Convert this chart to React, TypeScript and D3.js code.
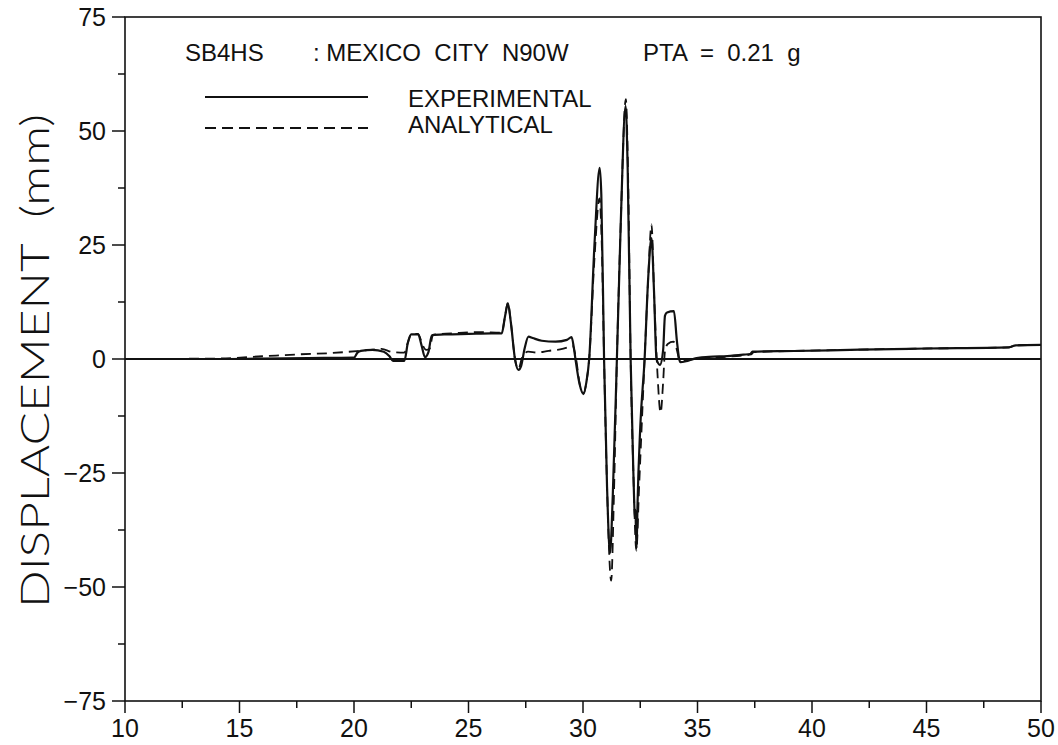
import React from "react";
import * as d3 from "d3";

const xTickValues = [10, 15, 20, 25, 30, 35, 40, 45, 50];
const xMinorTicks = [12.5, 17.5, 22.5, 27.5, 32.5, 37.5, 42.5, 47.5];
const yTickValues = [-75, -50, -25, 0, 25, 50, 75];
const yTickLabels = ["\u221275", "\u221250", "\u221225", "0", "25", "50", "75"];
const yMinorTicks = [-62.5, -37.5, -12.5, 12.5, 37.5, 62.5];

const titleLeft = "SB4HS";
const titleMid = ": MEXICO  CITY  N90W";
const titleRight = "PTA  =  0.21  g";
const seriesNames = ["EXPERIMENTAL", "ANALYTICAL"];
const yAxisTitle = "DISPLACEMENT  (mm)";

// Experimental (solid)
const expTime = [
  10.0, 14.0, 16.0, 18.0, 20.0, 20.15, 20.3, 20.8, 21.3, 21.55, 21.7, 22.2, 22.35, 22.5, 22.8, 22.95,
  23.1, 23.25, 23.4, 24.0, 25.0, 26.0, 26.45, 26.6, 26.72, 26.85, 27.03, 27.18, 27.3, 27.45,
  27.62, 27.8, 28.2, 28.8, 29.3, 29.5, 29.6, 29.67, 29.85, 30.02, 30.15, 30.27, 30.5, 30.73,
  30.8, 30.92, 31.05, 31.18, 31.3, 31.48, 31.65, 31.86, 31.95, 32.08, 32.2, 32.24, 32.27, 32.29,
  32.31, 32.34, 32.38, 32.5, 32.69, 32.85, 32.99, 33.1, 33.21, 33.36, 33.5, 33.58, 33.67, 33.97,
  34.1, 34.2, 34.25, 34.5, 34.8, 35.5, 36.3, 37.0, 37.3, 37.4, 39.2, 42.1, 45.0, 48.6, 48.9, 50.0,
];
const expDisp = [
  0, 0, 0.1, 0.2, 0.3, 1.4, 1.8, 2.0, 1.6, 0.6, -0.4, -0.4, 3.5, 5.4, 5.4, 3.0,
  0.4, 1.5, 5.2, 5.4, 5.5, 5.6, 5.6, 9.5, 12.2, 8.0, 0, -2.4, -1.5, 2.3,
  4.9, 4.6, 4.0, 3.8, 4.2, 4.8, 2.5, 0, -5.5, -7.7, -5.0, 0, 25, 41.9,
  36, 0, -28, -42.6, -30, 0, 30, 55.5, 42, 0, -25, -32, -35, -33,
  -37, -41.5, -32, -15, 0, 18, 26.5, 15, 0, -1.3, 2, 9.5, 10.2, 10.5,
  4, 0, -0.7, -0.5, 0, 0.45, 0.65, 0.95, 1.1, 1.6, 1.75, 2.05, 2.3, 2.55, 3.0, 3.1,
];

// Analytical (dashed)
const anaTime = [
  10.0, 14.0, 16.0, 17.5, 19.0, 20.5, 21.2, 21.7, 22.2, 22.35, 22.5, 22.8, 23.0, 23.15, 23.3, 23.45,
  24.5, 25.5, 26.45, 26.6, 26.72, 26.85, 27.03, 27.18, 27.35, 27.6, 28.0, 28.5, 29.0, 29.4,
  29.55, 29.64, 29.7, 29.85, 30.02, 30.15, 30.27, 30.5, 30.72, 30.82, 30.92, 31.05, 31.23, 31.35,
  31.48, 31.65, 31.87, 31.97, 32.08, 32.2, 32.33, 32.45, 32.69, 32.85, 32.99, 33.12, 33.25, 33.39,
  33.5, 33.58, 33.7, 33.95, 34.1, 34.2, 34.4, 34.8, 35.5, 36.3, 37.0, 37.35, 37.45, 39.2, 42.1,
  45.0, 48.6, 48.9, 50.0,
];
const anaDisp = [
  0, 0.1, 0.6, 1.0, 1.3, 1.9, 2.2, 1.5, 1.4, 3.6, 5.4, 5.5, 3.0, 2.0, 2.2, 5.3,
  5.7, 5.9, 5.8, 9.5, 12.3, 8.0, 0, -2.2, 0.5, 1.6, 1.4, 1.8, 2.1, 2.7,
  3.0, 1.5, 0, -5.3, -7.5, -5.0, 0, 22, 35.2, 25, 0, -28, -48.6, -30,
  0, 30, 57, 40, 0, -25, -42, -28, 0, 18, 29.5, 12, -3, -11.8,
  -5, 1.7, 3.3, 3.8, 2, 0, -0.3, -0.1, 0.3, 0.5, 0.8, 1.0, 1.5, 1.75, 2.05,
  2.3, 2.55, 3.0, 3.1,
];

const W = 1058;
const H = 745;
const FONT = "'Liberation Sans', Arial, Helvetica, sans-serif";

export default function App() {
  const x = d3.scaleLinear().domain([10, 50]).range([125, 1041]);
  const y = d3.scaleLinear().domain([-75, 75]).range([701, 17]);

  const line = d3
    .line<[number, number]>()
    .x((d) => x(d[0]))
    .y((d) => y(d[1]))
    .curve(d3.curveMonotoneX);

  const expPts: [number, number][] = expTime.map((t, i) => [t, expDisp[i]]);
  const anaPts: [number, number][] = anaTime.map((t, i) => [t, anaDisp[i]]);

  const [x0, x1] = x.range();
  const [yb, yt] = y.range();

  return (
    <svg
      width={W}
      height={H}
      style={{ position: "absolute", left: 0, top: 0, background: "#fff" }}
      fontFamily={FONT}
    >
      <rect x={0} y={0} width={W} height={H} fill="#fff" />

      {/* frame */}
      <rect x={x0} y={yt} width={x1 - x0} height={yb - yt} fill="none" stroke="#111" strokeWidth={1.6} />

      {/* zero line */}
      <line x1={x0} x2={x1} y1={y(0)} y2={y(0)} stroke="#111" strokeWidth={2} />

      {/* y ticks */}
      {yTickValues.map((v, i) => (
        <g key={"yt" + v}>
          <line x1={x0 - 13} x2={x0} y1={y(v)} y2={y(v)} stroke="#111" strokeWidth={1.5} />
          <text x={106} y={y(v)} dy="0.36em" textAnchor="end" fontSize={25} fill="#111">
            {yTickLabels[i]}
          </text>
        </g>
      ))}
      {yMinorTicks.map((v) => (
        <line key={"ym" + v} x1={x0 - 7} x2={x0} y1={y(v)} y2={y(v)} stroke="#111" strokeWidth={1.5} />
      ))}

      {/* x ticks */}
      {xTickValues.map((v) => (
        <g key={"xt" + v}>
          <line x1={x(v)} x2={x(v)} y1={yb} y2={yb + 12} stroke="#111" strokeWidth={1.5} />
          <text x={x(v)} y={737} textAnchor="middle" fontSize={25} fill="#111">
            {v}
          </text>
        </g>
      ))}
      {xMinorTicks.map((v) => (
        <line key={"xm" + v} x1={x(v)} x2={x(v)} y1={yb} y2={yb + 7} stroke="#111" strokeWidth={1.5} />
      ))}

      {/* y axis title */}
      <text
        transform={`translate(49, 361) rotate(-90)`}
        textAnchor="middle"
        fontSize={40}
        fontFamily="Lato, 'Liberation Sans', Arial, sans-serif"
        fontWeight={300}
        fill="#111"
        textLength={494}
        lengthAdjust="spacingAndGlyphs"
        style={{ whiteSpace: "pre" }}
      >
        {yAxisTitle}
      </text>

      {/* title */}
      <text x={185} y={61} fontSize={24} fill="#111">{titleLeft}</text>
      <text x={313} y={61} fontSize={24} fill="#111" style={{ whiteSpace: "pre" }}>{titleMid}</text>
      <text x={643} y={61} fontSize={24} fill="#111" style={{ whiteSpace: "pre" }}>{titleRight}</text>

      {/* legend */}
      <line x1={205} x2={368} y1={97} y2={97} stroke="#111" strokeWidth={2.2} />
      <text x={408} y={107} fontSize={24} fill="#111">{seriesNames[0]}</text>
      <line x1={205} x2={368} y1={128} y2={128} stroke="#111" strokeWidth={1.8} strokeDasharray="11,6" />
      <text x={408} y={133} fontSize={24} fill="#111">{seriesNames[1]}</text>

      {/* data */}
      <path d={line(anaPts) || ""} fill="none" stroke="#111" strokeWidth={1.8} strokeDasharray="10,6" />
      <path d={line(expPts) || ""} fill="none" stroke="#111" strokeWidth={2.2} />
    </svg>
  );
}
